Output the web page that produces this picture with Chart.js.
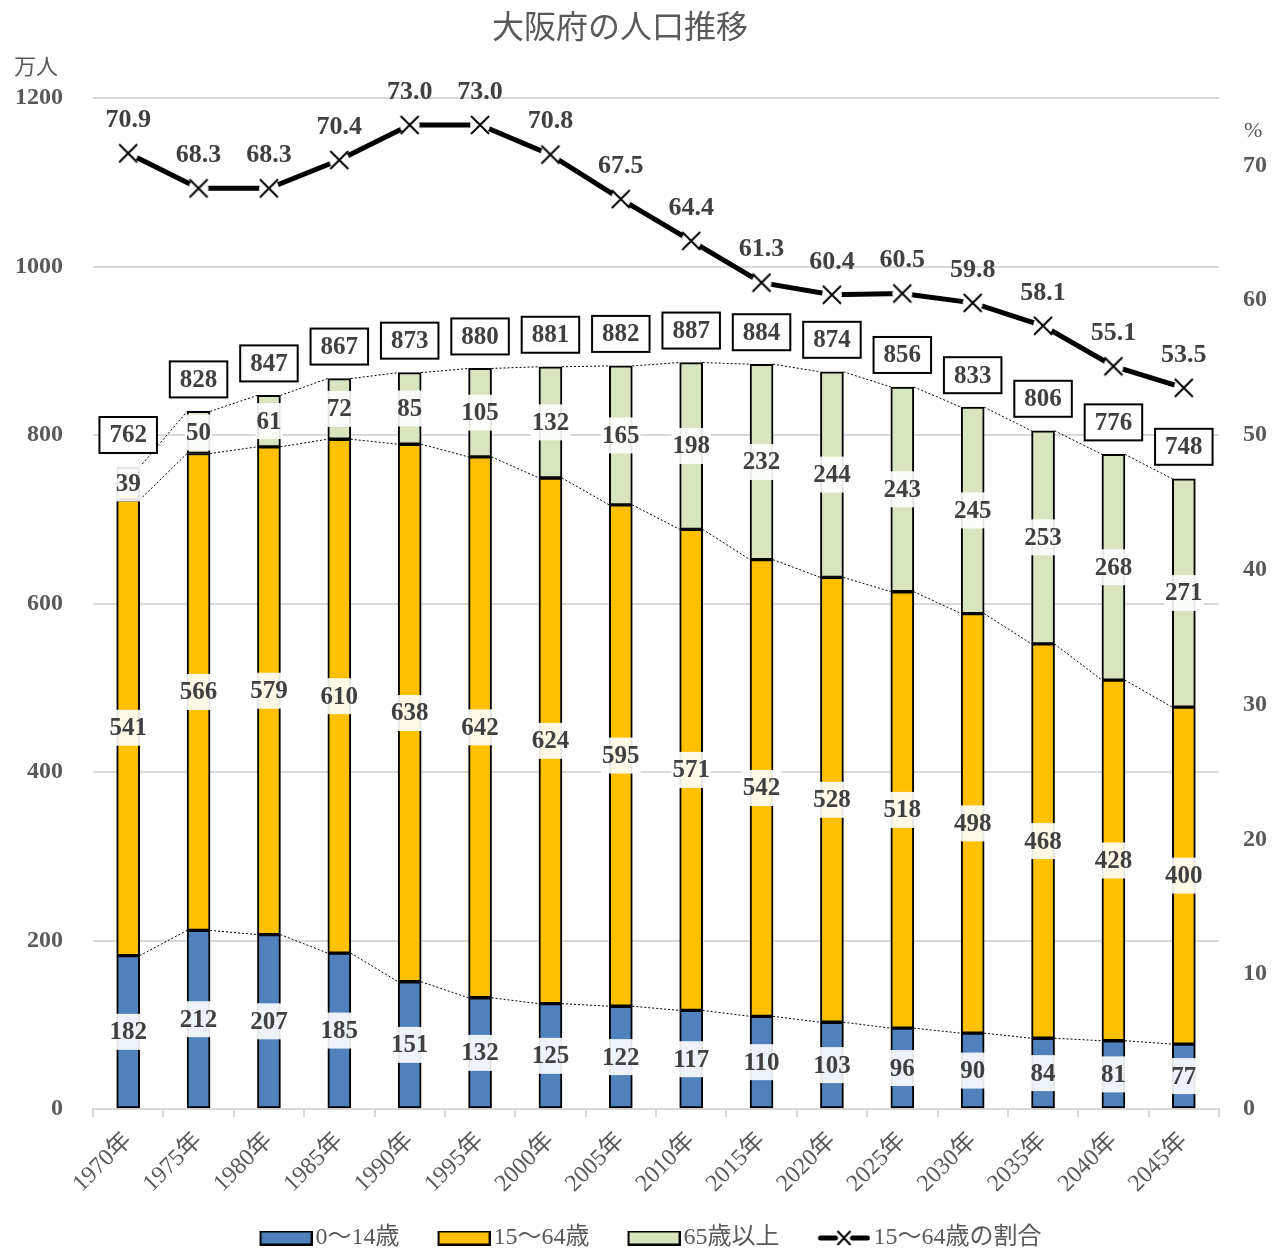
<!DOCTYPE html>
<html>
<head>
<meta charset="utf-8">
<script src="https://cdn.jsdelivr.net/npm/chart.js@4.4.1/dist/chart.umd.min.js"></script>
<style>
  body { margin: 0; background: #fff; }
  #wrap { width: 1273px; height: 1248px; }
</style>
</head>
<body>
<div id="wrap"><canvas id="myChart" width="1273" height="1248"></canvas></div>
<script>
'use strict';

// years on the x axis
const years = ['1970年', '1975年', '1980年', '1985年', '1990年', '1995年', '2000年', '2005年',
  '2010年', '2015年', '2020年', '2025年', '2030年', '2035年', '2040年', '2045年'];
// population by age group (万人)
const age0to14 = [182, 212, 207, 185, 151, 132, 125, 122, 117, 110, 103, 96, 90, 84, 81, 77];
const age15to64 = [541, 566, 579, 610, 638, 642, 624, 595, 571, 542, 528, 518, 498, 468, 428, 400];
const age65up = [39, 50, 61, 72, 85, 105, 132, 165, 198, 232, 244, 243, 245, 253, 268, 271];
// totals shown in the boxes above the bars
const totals = [762, 828, 847, 867, 873, 880, 881, 882, 887, 884, 874, 856, 833, 806, 776, 748];
// share of 15-64 (%), right axis
const workingShare = [70.9, 68.3, 68.3, 70.4, 73.0, 73.0, 70.8, 67.5, 64.4, 61.3, 60.4, 60.5, 59.8, 58.1, 55.1, 53.5];
// series names
const seriesNames = ['0〜14歳', '15〜64歳', '65歳以上', '15〜64歳の割合'];
// left / right axis ticks
const leftTicks = [0, 200, 400, 600, 800, 1000, 1200];
const rightTicks = [0, 10, 20, 30, 40, 50, 60, 70];

const FONT = '"Liberation Serif", "Noto Sans CJK JP", serif';
const colors = ['#4f81bd', '#ffc000', '#d7e4bd'];

// cross marker with a little white gap so the line stops short of it
function makeCross(size) {
  const c = document.createElement('canvas');
  c.width = size; c.height = size;
  const g = c.getContext('2d');
  g.fillStyle = '#fff';
  g.beginPath();
  g.arc(size / 2, size / 2, size / 2 - 1, 0, Math.PI * 2);
  g.fill();
  g.strokeStyle = '#000';
  g.lineWidth = 2;
  g.beginPath();
  g.moveTo(2, 2); g.lineTo(size - 2, size - 2);
  g.moveTo(size - 2, 2); g.lineTo(2, size - 2);
  g.stroke();
  return c;
}

// legend icons are 90px wide canvases, the visible icon sits at the right (x 37..90)
// so the gaps between icon, text and next item look like the original
const ICON_W = 90;
const ICON_X = 37;
function makeBoxIcon(color) {
  const c = document.createElement('canvas');
  c.width = ICON_W; c.height = 15;
  const g = c.getContext('2d');
  g.fillStyle = color;
  g.fillRect(ICON_X + 1, 1, 51, 13);
  g.strokeStyle = '#000';
  g.lineWidth = 2;
  g.strokeRect(ICON_X + 1, 1, 51, 13);
  return c;
}
function makeLineIcon() {
  const c = document.createElement('canvas');
  c.width = ICON_W; c.height = 18;
  const g = c.getContext('2d');
  g.translate(ICON_X, 0);
  g.strokeStyle = '#000';
  g.lineWidth = 5;
  g.lineCap = 'round';
  g.beginPath(); g.moveTo(3, 9); g.lineTo(18, 9); g.moveTo(35, 9); g.lineTo(50, 9); g.stroke();
  g.lineWidth = 2;
  g.lineCap = 'butt';
  g.beginPath();
  g.moveTo(20, 2); g.lineTo(33, 16);
  g.moveTo(33, 2); g.lineTo(20, 16);
  g.stroke();
  return c;
}

const crossMarker = makeCross(22);
const legendIcons = [makeBoxIcon(colors[0]), makeBoxIcon(colors[1]), makeBoxIcon(colors[2]), makeLineIcon()];

// title, unit labels, series lines and data labels
const decorations = {
  id: 'decorations',
  afterDatasetsDraw(chart) {
    const ctx = chart.ctx;
    ctx.save();

    // dotted series lines between neighbouring bars
    ctx.setLineDash([2, 2]);
    ctx.lineWidth = 1;
    ctx.strokeStyle = '#000';
    for (let d = 0; d < 3; d++) {
      const bars = chart.getDatasetMeta(d).data;
      ctx.beginPath();
      for (let i = 0; i < bars.length - 1; i++) {
        const a = bars[i], b = bars[i + 1];
        ctx.moveTo(a.x + a.width / 2, a.y);
        ctx.lineTo(b.x - b.width / 2, b.y);
      }
      ctx.stroke();
    }
    ctx.setLineDash([]);

    ctx.font = 'bold 25px ' + FONT;
    ctx.textAlign = 'center';
    ctx.textBaseline = 'middle';

    // segment values on a whitish patch
    const segData = [age0to14, age15to64, age65up];
    for (let d = 0; d < 3; d++) {
      const bars = chart.getDatasetMeta(d).data;
      bars.forEach((bar, i) => {
        const txt = String(segData[d][i]);
        const tw = ctx.measureText(txt).width;
        const cy = (bar.y + bar.base) / 2;
        ctx.fillStyle = 'rgba(255,255,255,0.9)';
        ctx.fillRect(bar.x - tw / 2 - 1, cy - 18, tw + 2, 36);
        ctx.fillStyle = '#404040';
        ctx.fillText(txt, bar.x, cy + 1);
      });
    }

    // totals in boxes above the stacks
    const topBars = chart.getDatasetMeta(2).data;
    topBars.forEach((bar, i) => {
      const txt = String(totals[i]);
      const tw = ctx.measureText(txt).width;
      const cy = bar.y - 32;
      ctx.fillStyle = '#fff';
      ctx.fillRect(bar.x - tw / 2 - 10, cy - 18, tw + 20, 36);
      ctx.strokeStyle = '#000';
      ctx.lineWidth = 2;
      ctx.strokeRect(bar.x - tw / 2 - 10, cy - 18, tw + 20, 36);
      ctx.fillStyle = '#404040';
      ctx.fillText(txt, bar.x, cy + 1);
    });

    // share labels above the markers
    ctx.font = 'bold 26px ' + FONT;
    const pts = chart.getDatasetMeta(3).data;
    pts.forEach((p, i) => {
      ctx.fillStyle = '#404040';
      ctx.fillText(workingShare[i].toFixed(1), p.x, p.y - 33);
    });

    // title and unit labels
    ctx.fillStyle = '#595959';
    ctx.font = '32px ' + FONT;
    ctx.fillText('大阪府の人口推移', 620, 30);
    ctx.font = '22px ' + FONT;
    ctx.textAlign = 'left';
    ctx.fillText('万人', 14, 68);
    ctx.fillText('%', 1244, 131);
    ctx.restore();
  }
};

const barSet = (i, data) => ({
  type: 'bar',
  label: seriesNames[i],
  data: data,
  backgroundColor: colors[i],
  borderColor: '#000',
  borderWidth: 2,
  borderSkipped: false,
  barThickness: 23,
  yAxisID: 'y'
});

const canvas = document.getElementById('myChart');
const ctx = canvas.getContext('2d');

new Chart(ctx, {
  data: {
    labels: years,
    datasets: [
      barSet(0, age0to14),
      barSet(1, age15to64),
      barSet(2, age65up),
      {
        type: 'line',
        label: seriesNames[3],
        data: workingShare,
        yAxisID: 'y1',
        borderColor: '#000',
        borderWidth: 5,
        pointStyle: crossMarker,
        pointRadius: 11,
        tension: 0
      }
    ]
  },
  options: {
    responsive: false,
    animation: false,
    layout: { padding: { top: 98, left: 0, right: 0, bottom: -12 } },
    plugins: {
      tooltip: { enabled: false },
      title: { display: false },
      legend: {
        position: 'bottom',
        labels: {
          usePointStyle: true,
          pointStyleWidth: 72,
          boxHeight: 15,
          padding: 10,
          color: '#595959',
          font: { family: FONT, size: 24 },
          sort: (a, b) => a.datasetIndex - b.datasetIndex,
          generateLabels(chart) {
            const items = Chart.defaults.plugins.legend.labels.generateLabels(chart);
            items.forEach(it => { it.pointStyle = legendIcons[it.datasetIndex]; });
            return items;
          }
        }
      }
    },
    scales: {
      x: {
        stacked: true,
        grid: { drawOnChartArea: false, drawTicks: true, tickLength: 8, color: '#d9d9d9', lineWidth: 2, offset: true },
        border: { color: '#d9d9d9', width: 2 },
        ticks: { maxRotation: 45, minRotation: 45, color: '#595959', font: { family: FONT, size: 24 }, padding: 10 },
        afterFit(s) { s.height = 107; }
      },
      y: {
        stacked: true,
        min: 0,
        max: 1200,
        afterBuildTicks(s) { s.ticks = leftTicks.map(v => ({ value: v })); },
        ticks: { color: '#595959', font: { family: FONT, size: 24, weight: 'bold' }, padding: 30, callback: v => String(v) },
        grid: { color: '#d9d9d9', lineWidth: 2, drawTicks: false },
        border: { display: false },
        afterFit(s) { s.width = 93; }
      },
      y1: {
        position: 'right',
        min: 0,
        max: 75,
        afterBuildTicks(s) { s.ticks = rightTicks.map(v => ({ value: v })); },
        ticks: { color: '#595959', font: { family: FONT, size: 24, weight: 'bold' }, padding: 24, callback: v => String(v) },
        grid: { display: false, drawTicks: false },
        border: { display: false },
        afterFit(s) { s.width = 54; }
      }
    }
  },
  plugins: [decorations]
});
</script>
</body>
</html>
